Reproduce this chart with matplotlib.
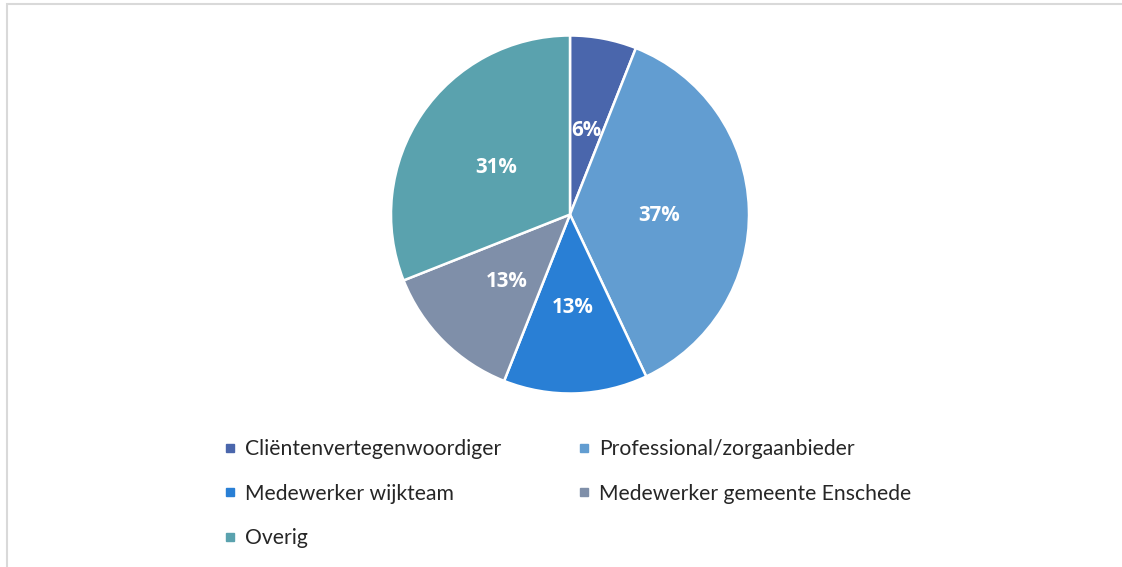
import matplotlib
matplotlib.use("Agg")
import matplotlib.pyplot as plt
from matplotlib.lines import Line2D
from matplotlib.patches import Rectangle
from matplotlib.transforms import ScaledTranslation

# data
categories = ["Cliëntenvertegenwoordiger", "Professional/zorgaanbieder",
              "Medewerker wijkteam", "Medewerker gemeente Enschede", "Overig"]
shares = [6, 37, 13, 13, 31]
colors = ["#4A66AC", "#629DD1", "#297FD5", "#7F8FA9", "#5AA2AE"]

W, H = 1122, 567
fig = plt.figure(figsize=(W / 100, H / 100), dpi=100)
fig.patch.set_facecolor("white")

# light grey chart-area border (cropped at right/bottom)
fig.patches.append(Rectangle((7 / W, -0.05), 1.2, (H - 4) / H + 0.05,
                             transform=fig.transFigure, fill=False,
                             edgecolor="#D9D9D9", linewidth=1.5))

# pie: centre (570, 214.5), radius 179 px
cx, cy, r = 570, 214.5, 179
ax = fig.add_axes([(cx - r) / W, (H - cy - r) / H, 2 * r / W, 2 * r / H])
wedges, texts, autotexts = ax.pie(
    shares, colors=colors, startangle=90, counterclock=False,
    autopct="%1.0f%%", pctdistance=0.5,
    wedgeprops=dict(edgecolor="white", linewidth=1.8),
    textprops=dict(color="white", fontweight="bold", fontsize=14.8,
                   family="Open Sans"))
# nudge the percentage labels a little lower (visual centring)
shift = ScaledTranslation(0, -3.5 / 100, fig.dpi_scale_trans)
for t in autotexts:
    t.set_transform(t.get_transform() + shift)
ax.set_xlim(-1, 1)
ax.set_ylim(-1, 1)
ax.set_aspect("equal")
ax.axis("off")

# legend, two columns filled row by row
handles = [Line2D([], [], marker="s", linestyle="", markersize=6,
                  markerfacecolor=c, markeredgecolor=c) for c in colors]
leg_kw = dict(frameon=False, handlelength=0.5, handletextpad=0.45,
              labelspacing=1.17, borderpad=0, borderaxespad=0,
              prop=dict(family="Lato", size=15.2), labelcolor="#262626")

left = [0, 2, 4]
right = [1, 3]
fig.legend([handles[i] for i in left], [categories[i] for i in left],
           loc="upper left", bbox_to_anchor=(225 / W, 1 - 439 / H), **leg_kw)
fig.legend([handles[i] for i in right], [categories[i] for i in right],
           loc="upper left", bbox_to_anchor=(579 / W, 1 - 439 / H), **leg_kw)

fig.savefig("out.png", dpi=100)
